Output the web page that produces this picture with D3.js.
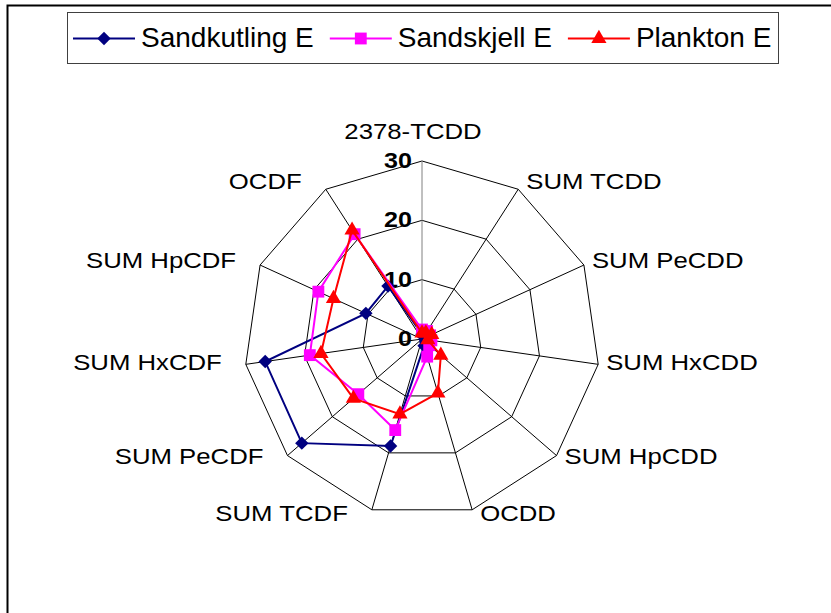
<!DOCTYPE html>
<html>
<head>
<meta charset="utf-8">
<script src="https://cdn.jsdelivr.net/npm/d3@7"></script>
<style>
  body { margin: 0; background: #fff; }
  text { font-family: "Liberation Sans", Arial, sans-serif; }
</style>
</head>
<body>
<div id="chart"></div>
<script>
// Chart data
const categories = ["2378-TCDD", "SUM TCDD", "SUM PeCDD", "SUM HxCDD", "SUM HpCDD", "OCDD",
  "SUM TCDF", "SUM PeCDF", "SUM HxCDF", "SUM HpCDF", "OCDF"];
const sandkutling = [0.8, 0.5, 0.5, 0.5, 0.8, 1.2, 18.8, 26.8, 26.7, 10.4, 10.6];
const sandskjell = [1.6, 1.6, 1.5, 1.6, 1.6, 3.1, 16.0, 14.2, 19.1, 19.2, 21.0];
const plankton = [1.0, 1.2, 1.8, 1.0, 4.2, 9.5, 13.2, 15.3, 17.2, 16.4, 21.8];
const seriesNames = ["Sandkutling E", "Sandskjell E", "Plankton E"];
const ticks = [0, 10, 20, 30];

const W = 831, H = 613;
const cx = 422, cy = 339, R = 178;
const colors = ["#000080", "#ff00ff", "#ff0000"];

// wide diamond like the spreadsheet marker
const wideDiamond = {
  draw(ctx, size) {
    const s = Math.sqrt(size / 2);
    ctx.moveTo(0, -s); ctx.lineTo(s, 0); ctx.lineTo(0, s); ctx.lineTo(-s, 0); ctx.closePath();
  }
};
const shapes = [wideDiamond, d3.symbolSquare, d3.symbolTriangle];
const sizes = [90, 140, 100];
const series = [sandkutling, sandskjell, plankton];

const svg = d3.select("#chart").append("svg")
  .attr("width", W).attr("height", H);

// outer frame (runs off the right and bottom edges)
svg.append("rect")
  .attr("x", 7.5).attr("y", 5.5)
  .attr("width", 840).attr("height", 640)
  .attr("fill", "#fff").attr("stroke", "#000").attr("stroke-width", 2);

const r = d3.scaleLinear().domain([0, 30]).range([0, R]);
const angle = d3.scaleLinear().domain([0, categories.length]).range([0, 2 * Math.PI]);
const pt = (i, v) => [cx + r(v) * Math.sin(angle(i)), cy - r(v) * Math.cos(angle(i))];

const g = svg.append("g");

// grid polygons
ticks.filter(t => t > 0).forEach(t => {
  g.append("polygon")
    .attr("points", categories.map((c, i) => pt(i, t).join(",")).join(" "))
    .attr("fill", "none").attr("stroke", "#000").attr("stroke-width", 1);
});

// spokes
categories.forEach((c, i) => {
  const [x, y] = pt(i, 30);
  g.append("line")
    .attr("x1", cx).attr("y1", cy).attr("x2", x).attr("y2", y)
    .attr("stroke", i === 0 ? "#808080" : "#000").attr("stroke-width", 1);
});

// tick labels
g.selectAll(".tick").data(ticks).enter().append("g")
  .attr("transform", d => `translate(${cx - 10},${cy - r(d) + 7})`)
  .append("text")
  .attr("transform", "scale(1.14,1)")
  .attr("text-anchor", "end")
  .attr("font-size", 22).attr("font-weight", "bold")
  .text(d => d);

// category labels
categories.forEach((c, i) => {
  const [x, y] = pt(i, 30);
  const s = Math.sin(angle(i)), co = Math.cos(angle(i));
  let anchor, lx, ly;
  if (i === 0) {
    anchor = "middle"; lx = x - 9; ly = y - 22;
  } else {
    anchor = s > 0 ? "start" : "end";
    lx = s > 0 ? x + 8 : x - 24;
    ly = y + 5 - 6 * co;
  }
  g.append("g").attr("transform", `translate(${lx},${ly})`)
    .append("text")
    .attr("transform", "scale(1.17,1)")
    .attr("text-anchor", anchor)
    .attr("font-size", 22)
    .text(c);
});

// series
series.forEach((vals, k) => {
  const line = d3.line().curve(d3.curveLinearClosed);
  g.append("path")
    .attr("d", line(vals.map((v, i) => pt(i, v))))
    .attr("fill", "none").attr("stroke", colors[k]).attr("stroke-width", 2);
  g.selectAll(".m" + k).data(vals).enter().append("path")
    .attr("transform", (v, i) => `translate(${pt(i, v).join(",")})`)
    .attr("d", d3.symbol().type(shapes[k]).size(sizes[k]))
    .attr("fill", colors[k]).attr("stroke", "none");
});

// legend
const legend = svg.append("g");
legend.append("rect")
  .attr("x", 67.5).attr("y", 12.5).attr("width", 711).attr("height", 51)
  .attr("fill", "#fff").attr("stroke", "#404040").attr("stroke-width", 1);
let lx = 73;
seriesNames.forEach((name, k) => {
  legend.append("line")
    .attr("x1", lx).attr("x2", lx + 62).attr("y1", 38.5).attr("y2", 38.5)
    .attr("stroke", colors[k]).attr("stroke-width", 2);
  legend.append("path")
    .attr("transform", `translate(${lx + 31},38.5)`)
    .attr("d", d3.symbol().type(shapes[k]).size(sizes[k]))
    .attr("fill", colors[k]);
  const t = legend.append("text")
    .attr("x", lx + 68).attr("y", 47)
    .attr("font-size", 28)
    .text(name);
  lx = lx + 68 + t.node().getComputedTextLength() + 16;
});
</script>
</body>
</html>
